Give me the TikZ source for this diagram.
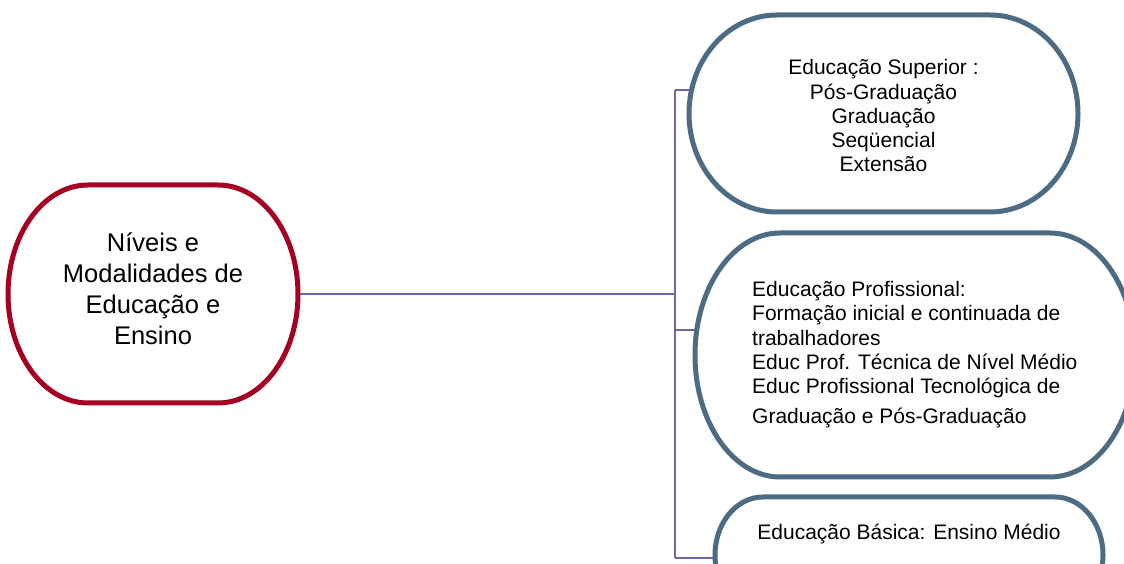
\documentclass[tikz,border=0pt]{standalone}
\usepackage{fontspec}
\setmainfont{Liberation Sans}
\definecolor{redc}{HTML}{A50021}
\definecolor{bluec}{HTML}{4D6B82}
\definecolor{linec}{HTML}{6F64A6}
\newcommand\myoval[7][]{%
  \draw[#1] (#2+#6,#5) -- (#4-#6,#5)
    arc[start angle=90,end angle=0,x radius=#6,y radius=#7]
    -- (#4,#3+#7)
    arc[start angle=0,end angle=-90,x radius=#6,y radius=#7]
    -- (#2+#6,#3)
    arc[start angle=270,end angle=180,x radius=#6,y radius=#7]
    -- (#2,#5-#7)
    arc[start angle=180,end angle=90,x radius=#6,y radius=#7]
    -- cycle;}
\begin{document}
\begin{tikzpicture}[x=1pt,y=1pt,
  conn/.style={draw=linec,line width=1.5pt},
  redshape/.style={draw=redc,line width=5pt,fill=white},
  blueshape/.style={draw=bluec,line width=5pt,fill=white},
  bigtxt/.style={inner sep=0pt,font=\fontsize{25.5}{31}\selectfont,align=center},
  midtxt/.style={inner sep=0pt,font=\fontsize{21}{24.3}\selectfont}]
\useasboundingbox (0,0) rectangle (1124,564);
\fill[white] (0,0) rectangle (1124,564);
% connectors
\coordinate (redE) at (298,270);
\coordinate (jn) at (675,270);
\coordinate (jt) at (675,474);
\coordinate (jm) at (675,234);
\coordinate (jb) at (675,6);
\coordinate (topW) at (690,474);
\coordinate (midW) at (698,234);
\coordinate (botW) at (716,6);
\draw[conn] (redE) -- (jn);
\draw[conn] (jt) -- (jb);
\draw[conn] (jt) -- (topW);
\draw[conn] (jm) -- (midW);
\draw[conn] (jb) -- (botW);
% shapes
\myoval[redshape]{8}{161}{298}{379}{80}{109}
\myoval[blueshape]{689}{352}{1078}{549}{88}{98.5}
\myoval[blueshape]{695}{87}{1135}{331}{85}{122}
\myoval[blueshape]{715}{-49}{1103}{67}{48}{58}
% texts
\node[bigtxt,anchor=base] (tred) at (153,219) {Níveis e\\Modalidades de\\Educação e\\Ensino};
\node[midtxt,align=center,anchor=base] (ttop) at (883.5,392) {Educação Superior :\\Pós-Graduação\\Graduação\\Seqüencial\\Extensão};
\node[midtxt,align=left,anchor=base west] (tmid) at (752,140) {Educação Profissional:\\Formação inicial e continuada de\\trabalhadores\\Educ Prof. Técnica de Nível Médio\\Educ Profissional Tecnológica de\\[6pt]Graduação e Pós-Graduação};
\node[midtxt,anchor=base] (tbot) at (909,24) {Educação Básica: Ensino Médio};
\end{tikzpicture}
\end{document}
